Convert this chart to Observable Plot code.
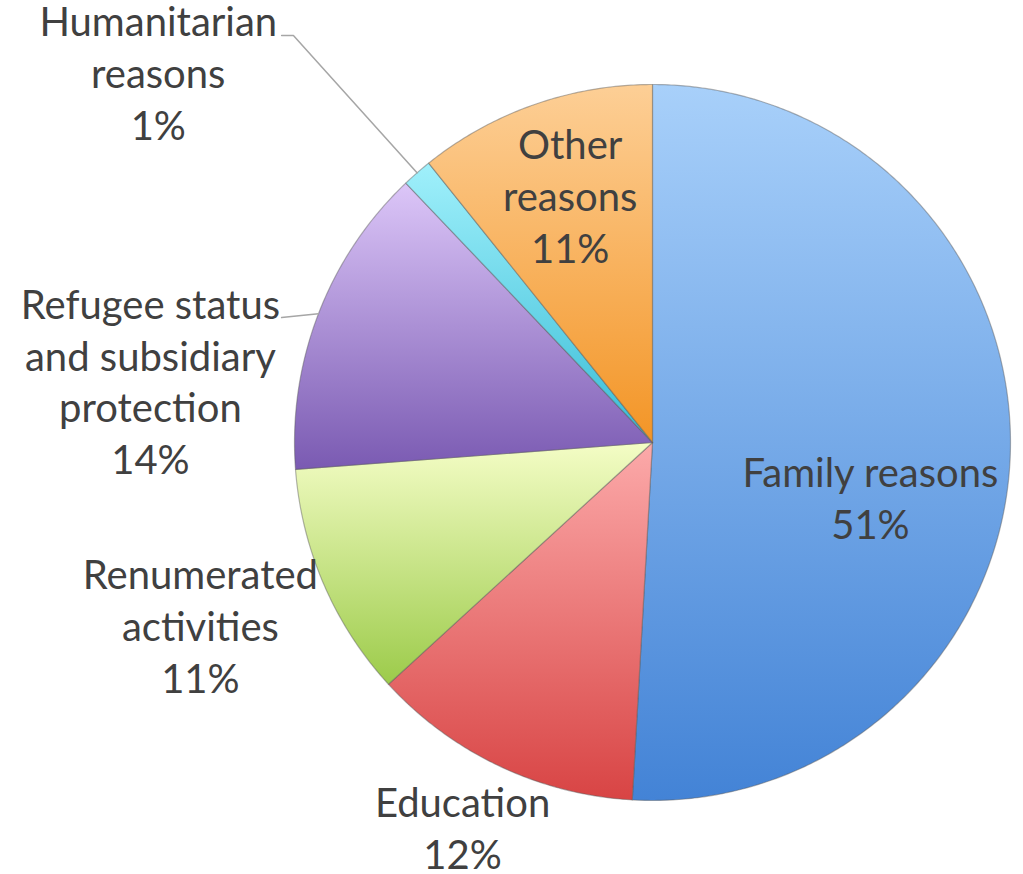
<!DOCTYPE html>
<html><head><meta charset="utf-8">
<script src="https://cdn.jsdelivr.net/npm/d3@7"></script>
<script src="https://cdn.jsdelivr.net/npm/@observablehq/plot@0.6"></script>
<style>html,body{margin:0;padding:0;background:#fff}</style>
</head><body><div id="chart"></div>
<script>
// ---- data ----
const categories = ["Family reasons", "Education", "Renumerated activities", "Refugee status and subsidiary protection", "Humanitarian reasons", "Other reasons"];
const labelNames = ["Family reasons", "Education", "Renumerated\nactivities", "Refugee status\nand subsidiary\nprotection", "Humanitarian\nreasons", "Other\nreasons"];
const shares = [50.9, 12.3, 10.6, 14.1, 1.35, 10.75];

// ---- styles / layout ----
const lightColors = ["#a8d0fa", "#fcaaaa", "#f4fdc6", "#dcc6f8", "#a0f0fb", "#fdcf96"];
const darkColors  = ["#4383d6", "#d84444", "#9ccb4a", "#7a5ab2", "#38bcd6", "#f39526"];
const labelRadius = [0.63, 1.207, 1.366, 1.412, 1.719, 0.719];
const labelAngleShift = [13.3, 0.7, 1, -14.4, -12.3, 0.7];
const leaderElbows = [null, null, null, [[-1.036, 0.349]], [[-1.003, 1.137], [-1.036, 1.137]], null];

const W = 1023, H = 874, cx = 652, cy = 442, R = 358;
const rad = Math.PI / 180;

// build slices from shares
const total = d3.sum(shares);
let acc = 0;
const slices = shares.map((v, i) => {
  const a0 = acc / total * 360;
  acc += v;
  const a1 = acc / total * 360;
  const pts = [{x: 0, y: 0}];
  const n = Math.max(4, Math.ceil((a1 - a0) / 0.5));
  for (let k = 0; k <= n; k++) {
    const a = (a0 + (a1 - a0) * k / n) * rad;
    pts.push({x: Math.sin(a), y: Math.cos(a)});
  }
  pts.push({x: 0, y: 0});
  const mid = (a0 + a1) / 2;
  const la = (mid + labelAngleShift[i]) * rad;
  return {i, name: categories[i], value: v, a0, a1, mid, pts,
    label: labelNames[i] + "\n" + Math.round(v) + "%",
    lx: labelRadius[i] * Math.sin(la), ly: labelRadius[i] * Math.cos(la)};
});

const leaders = [];
slices.forEach(s => {
  const el = leaderElbows[s.i];
  if (!el) return;
  leaders.push({k: s.i, x: Math.sin(s.mid * rad), y: Math.cos(s.mid * rad)});
  el.forEach(p => leaders.push({k: s.i, x: p[0], y: p[1]}));
});

const defs = () => {
  const d = d3.create("svg:defs");
  slices.forEach(s => {
    const g = d.append("linearGradient").attr("id", "grad" + s.i)
      .attr("x1", 0).attr("y1", 0).attr("x2", 0).attr("y2", 1);
    g.append("stop").attr("offset", "0%").attr("stop-color", lightColors[s.i]);
    g.append("stop").attr("offset", "100%").attr("stop-color", darkColors[s.i]);
  });
  return d.node();
};

const chart = Plot.plot({
  width: W, height: H,
  margin: 0,
  x: {domain: [-cx / R, (W - cx) / R], range: [0, W], axis: null},
  y: {domain: [-(H - cy) / R, cy / R], range: [H, 0], axis: null},
  style: {background: "#fff"},
  marks: [
    defs,
    ...slices.map(s => Plot.line(s.pts, {x: "x", y: "y", fill: `url(#grad${s.i})`, stroke: "#5a5a5a", strokeOpacity: 0.45, strokeWidth: 1.2, strokeLinejoin: "round"})),
    Plot.line(leaders, {x: "x", y: "y", z: "k", stroke: "#a6a6a6", strokeWidth: 1.5}),
    Plot.text(slices, {x: "lx", y: "ly", text: "label", lineAnchor: "middle", textAnchor: "middle", dy: -4,
      fontSize: 40, lineHeight: 1.3, fill: "#404040", fontFamily: "Lato, 'Open Sans', sans-serif"})
  ]
});
document.getElementById("chart").append(chart);
</script>
</body></html>
